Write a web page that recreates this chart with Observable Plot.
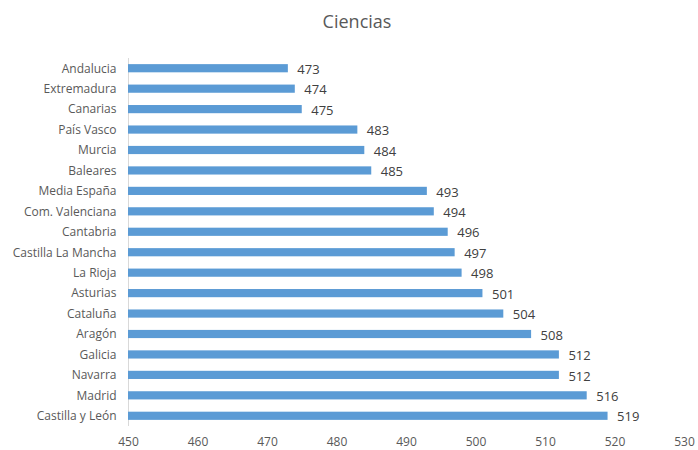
<!DOCTYPE html>
<html>
<head>
<meta charset="utf-8">
<script src="https://cdn.jsdelivr.net/npm/d3@7"></script>
<script src="https://cdn.jsdelivr.net/npm/@observablehq/plot@0.6"></script>
<style>
  html, body { margin: 0; padding: 0; background: #fff; }
  #wrap { position: relative; width: 698px; height: 450px; font-family: "Open Sans", "Noto Sans", sans-serif; }
  #title { position: absolute; top: 9px; left: 0; width: 714px; text-align: center; font-size: 18px; color: #595959; }
  #chart { position: absolute; top: 0; left: 0; }
</style>
</head>
<body>
<div id="wrap">
  <div id="chart"></div>
  <div id="title">Ciencias</div>
</div>
<script>
const regions = ["Andalucia","Extremadura","Canarias","País Vasco","Murcia","Baleares","Media España","Com. Valenciana","Cantabria","Castilla La Mancha","La Rioja","Asturias","Cataluña","Aragón","Galicia","Navarra","Madrid","Castilla y León"];
const scores = [473,474,475,483,484,485,493,494,496,497,498,501,504,508,512,512,516,519];
const xTicks = [450,460,470,480,490,500,510,520,530];

const data = regions.map((r, i) => ({region: r, score: scores[i]}));

const chart = Plot.plot({
  width: 698,
  height: 450,
  marginLeft: 128,
  marginRight: 14,
  marginTop: 58,
  marginBottom: 24,
  style: {fontFamily: "'Open Sans', 'Noto Sans', sans-serif", fontSize: "12px", color: "#595959", background: "#fff"},
  x: {domain: [450, 530], ticks: xTicks, tickSize: 0, tickPadding: 11, label: null},
  y: {domain: regions, paddingInner: 0.6, paddingOuter: 0.3, round: false, tickSize: 0, tickPadding: 12, label: null},
  marks: [
    Plot.ruleX([450], {stroke: "#d9d9d9", strokeWidth: 1}),
    Plot.barX(data, {x1: 450, x2: "score", y: "region", fill: "#5B9BD5"}),
    Plot.text(data, {x: "score", y: "region", text: d => String(d.score), textAnchor: "start", dx: 9, dy: 1, fill: "#404040", fontSize: 13})
  ]
});
document.getElementById("chart").appendChild(chart);
</script>
</body>
</html>
